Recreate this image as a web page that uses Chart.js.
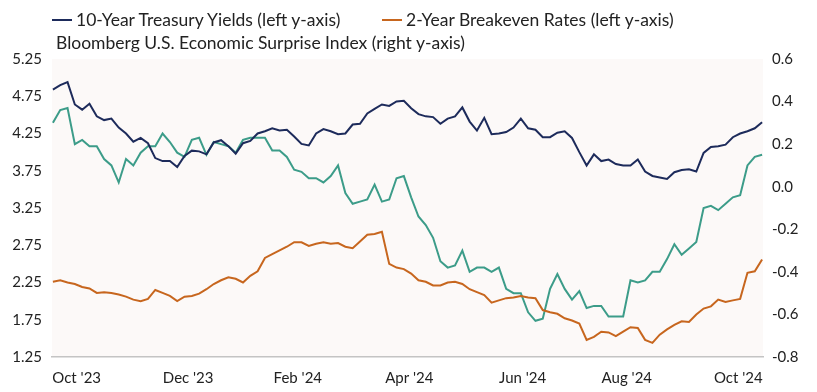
<!DOCTYPE html>
<html lang="en">
<head>
<meta charset="UTF-8">
<title>Treasury Yields, Breakevens and Economic Surprise</title>
<script src="https://cdn.jsdelivr.net/npm/chart.js"></script>
<style>
  body { margin: 0; background: #fff; font-family: 'Lato', sans-serif; }
  .wrap { position: relative; width: 817px; height: 392px; }
  canvas { position: absolute; left: 0; top: 0; }
  .legend {
    position: absolute; left: 52px; top: 8px; width: 760px;
    display: grid; grid-template-columns: 330px auto; grid-auto-rows: 23px;
    font-size: 17.5px; color: #222;
  }
  .legend .item { display: flex; align-items: center; white-space: nowrap; }
  .legend i { display: inline-block; width: 20px; height: 2px; margin-right: 4px; }
</style>
</head>
<body>
<div class="wrap">
  <canvas id="chart" width="817" height="392"></canvas>
  <div class="legend" id="legend"></div>
</div>
<script>
// series sampled every 4 days starting from startDate
const startDate = '2023-10-16';
const stepDays = 4;

const seriesNames = [
  '10-Year Treasury Yields (left y-axis)',
  '2-Year Breakeven Rates (left y-axis)',
  'Bloomberg U.S. Economic Surprise Index (right y-axis)'
];

const tenYear = [
  4.84, 4.90, 4.94, 4.64, 4.57, 4.65, 4.48, 4.43, 4.45, 4.33,
  4.25, 4.14, 4.19, 4.12, 3.92, 3.88, 3.88, 3.80, 3.95, 4.02,
  4.01, 3.97, 4.13, 4.16, 4.08, 3.98, 4.12, 4.15, 4.25, 4.28,
  4.32, 4.29, 4.30, 4.21, 4.11, 4.09, 4.25, 4.31, 4.28, 4.24,
  4.25, 4.37, 4.38, 4.52, 4.58, 4.64, 4.62, 4.68, 4.69, 4.59,
  4.51, 4.48, 4.47, 4.38, 4.45, 4.48, 4.60, 4.41, 4.29, 4.46,
  4.24, 4.25, 4.27, 4.33, 4.45, 4.32, 4.30, 4.20, 4.20, 4.26,
  4.28, 4.19, 4.00, 3.82, 3.97, 3.88, 3.90, 3.84, 3.82, 3.82,
  3.90, 3.74, 3.68, 3.66, 3.64, 3.73, 3.76, 3.77, 3.74, 3.99,
  4.07, 4.08, 4.10, 4.20, 4.25, 4.28, 4.32, 4.40
];

const breakeven = [
  2.26, 2.28, 2.25, 2.23, 2.19, 2.17, 2.11, 2.12, 2.11, 2.09,
  2.06, 2.02, 2.00, 2.03, 2.15, 2.11, 2.07, 2.00, 2.06, 2.07,
  2.10, 2.16, 2.23, 2.28, 2.32, 2.30, 2.25, 2.34, 2.40, 2.58,
  2.63, 2.68, 2.73, 2.79, 2.79, 2.74, 2.77, 2.79, 2.77, 2.78,
  2.73, 2.71, 2.80, 2.89, 2.90, 2.93, 2.50, 2.45, 2.43, 2.37,
  2.28, 2.26, 2.21, 2.21, 2.25, 2.26, 2.23, 2.16, 2.12, 2.08,
  1.98, 2.01, 2.04, 2.05, 2.07, 2.05, 2.04, 1.88, 1.85, 1.83,
  1.77, 1.74, 1.70, 1.48, 1.52, 1.59, 1.58, 1.53, 1.59, 1.65,
  1.64, 1.48, 1.44, 1.55, 1.62, 1.68, 1.73, 1.72, 1.82, 1.90,
  1.93, 2.02, 1.99, 2.01, 2.03, 2.38, 2.40, 2.56
];

const surprise = [
  0.30, 0.36, 0.37, 0.20, 0.22, 0.19, 0.19, 0.13, 0.10, 0.02,
  0.13, 0.10, 0.16, 0.19, 0.19, 0.25, 0.21, 0.16, 0.14, 0.22,
  0.23, 0.15, 0.21, 0.20, 0.19, 0.16, 0.22, 0.23, 0.23, 0.23,
  0.17, 0.17, 0.14, 0.08, 0.07, 0.04, 0.04, 0.02, 0.05, 0.10,
  -0.03, -0.08, -0.07, -0.06, 0.01, -0.07, -0.06, 0.04, 0.05, -0.05,
  -0.14, -0.18, -0.24, -0.35, -0.38, -0.37, -0.30, -0.40, -0.38, -0.38,
  -0.40, -0.38, -0.48, -0.50, -0.50, -0.59, -0.63, -0.62, -0.48, -0.41,
  -0.48, -0.53, -0.49, -0.57, -0.56, -0.56, -0.61, -0.61, -0.61, -0.44,
  -0.45, -0.44, -0.40, -0.40, -0.34, -0.27, -0.32, -0.29, -0.26, -0.10,
  -0.09, -0.11, -0.08, -0.05, -0.04, 0.10, 0.14, 0.15
];

const tickDates = ['2023-10-29', '2023-12-29', '2024-02-27', '2024-04-28', '2024-06-29', '2024-08-25', '2024-10-25'];
const tickLabels = ["Oct '23", "Dec '23", "Feb '24", "Apr '24", "Jun '24", "Aug '24", "Oct '24"];
const leftTicks = [1.25, 1.75, 2.25, 2.75, 3.25, 3.75, 4.25, 4.75, 5.25];
const rightTicks = [-0.8, -0.6, -0.4, -0.2, 0.0, 0.2, 0.4, 0.6];

const colors = ['#1d2b5b', '#c7661e', '#3c9c89'];

// days since the first sample
const DAY = 86400000;
const t0 = Date.parse(startDate);
const dayOf = s => Math.round((Date.parse(s) - t0) / DAY);
const xs = tenYear.map((_, i) => i * stepDays);
const tickDays = tickDates.map(dayOf);
const toPts = arr => arr.map((v, i) => ({ x: xs[i], y: v }));

const plotBg = {
  id: 'plotBg',
  beforeDraw(chart) {
    const { ctx, chartArea: a } = chart;
    ctx.save();
    ctx.fillStyle = '#fcf9f8';
    ctx.fillRect(a.left, a.top, a.right - a.left, a.bottom - a.top);
    ctx.restore();
  }
};

const font = { family: 'Lato', size: 15 };
const tickColor = '#222';

const chart = new Chart(document.getElementById('chart'), {
  type: 'line',
  data: {
    datasets: [
      { label: seriesNames[0], data: toPts(tenYear), yAxisID: 'yL' },
      { label: seriesNames[1], data: toPts(breakeven), yAxisID: 'yL' },
      { label: seriesNames[2], data: toPts(surprise), yAxisID: 'yR' }
    ].map((d, i) => Object.assign(d, {
      borderColor: colors[i], backgroundColor: colors[i],
      borderWidth: 2, pointRadius: 0, tension: 0, fill: false
    }))
  },
  options: {
    responsive: false,
    animation: false,
    events: [],
    layout: { padding: { top: 59 } },
    plugins: { legend: { display: false }, tooltip: { enabled: false } },
    scales: {
      x: {
        type: 'linear',
        min: -0.5,
        max: xs[xs.length - 1] + 0.5,
        grid: { display: false, drawTicks: false },
        border: { display: true, color: '#c4c4c4', width: 1.5 },
        afterBuildTicks: s => { s.ticks = tickDays.map(v => ({ value: v })); },
        afterFit: s => { s.height = 35; },
        ticks: {
          autoSkip: false, maxRotation: 0, padding: 12,
          font, color: tickColor,
          callback: (v, i) => tickLabels[i]
        }
      },
      yL: {
        position: 'left',
        min: leftTicks[0],
        max: leftTicks[leftTicks.length - 1],
        grid: { display: false, drawTicks: false },
        border: { display: false },
        afterBuildTicks: s => { s.ticks = leftTicks.map(v => ({ value: v })); },
        afterFit: s => { s.width = 52; },
        ticks: { padding: 10, font, color: tickColor, callback: v => v.toFixed(2) }
      },
      yR: {
        position: 'right',
        min: rightTicks[0],
        max: rightTicks[rightTicks.length - 1],
        grid: { display: false, drawTicks: false },
        border: { display: false },
        afterBuildTicks: s => { s.ticks = rightTicks.map(v => ({ value: v })); },
        afterFit: s => { s.width = 54; },
        ticks: { padding: 9, font, color: tickColor, callback: v => v.toFixed(1) }
      }
    }
  },
  plugins: [plotBg]
});

// html legend built from the datasets
const legend = document.getElementById('legend');
chart.data.datasets.forEach(d => {
  const item = document.createElement('span');
  item.className = 'item';
  const mark = document.createElement('i');
  mark.style.background = d.borderColor;
  item.appendChild(mark);
  item.appendChild(document.createTextNode(d.label));
  legend.appendChild(item);
});
</script>
</body>
</html>
